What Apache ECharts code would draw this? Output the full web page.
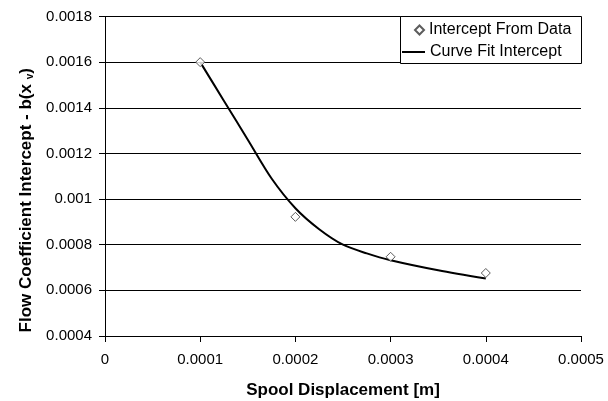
<!DOCTYPE html>
<html>
<head>
<meta charset="utf-8">
<script src="https://cdn.jsdelivr.net/npm/echarts@6/dist/echarts.min.js"></script>
<style>html,body{margin:0;padding:0;background:#fff}#c{width:608px;height:401px}</style>
</head>
<body>
<div id="c"></div>
<script>
// Data
var dataX = [0.0001, 0.0002, 0.0003, 0.0004];
var dataY = [0.0016, 0.000922, 0.000747, 0.000676];
var curveX = [0.0001, 0.000125, 0.00015, 0.000175, 0.0002, 0.000225, 0.00025, 0.000275, 0.0003, 0.00035, 0.0004];
var curveY = [0.0016, 0.00143, 0.00126, 0.00109, 0.00096, 0.000868, 0.0008, 0.000762, 0.000732, 0.000688, 0.000652];
var xTicks = [0, 0.0001, 0.0002, 0.0003, 0.0004, 0.0005];
var yTicks = [0.0004, 0.0006, 0.0008, 0.001, 0.0012, 0.0014, 0.0016, 0.0018];
var seriesNames = ['Intercept From Data', 'Curve Fit Intercept'];
var xTitle = 'Spool Displacement [m]';
var yTitle = 'Flow Coefficient Intercept - b(x ';

var FONT = "'Liberation Sans', Arial, sans-serif";
function fmt(v) { return String(+v.toFixed(5)); }

var chart = echarts.init(document.getElementById('c'), null, {renderer: 'canvas'});
chart.setOption({
  animation: false,
  backgroundColor: '#fff',
  textStyle: {fontFamily: FONT, color: '#000'},
  grid: {left: 105, right: 27, top: 16.5, bottom: 65, containLabel: false, outerBoundsMode: 'none'},
  xAxis: {
    type: 'value',
    min: xTicks[0], max: xTicks[xTicks.length - 1], interval: xTicks[1] - xTicks[0],
    name: xTitle, nameLocation: 'middle', nameGap: 46,
    nameTextStyle: {fontFamily: FONT, fontWeight: 'bold', fontSize: 17, color: '#000'},
    axisLine: {show: true, onZero: false, lineStyle: {color: '#000', width: 1}},
    axisTick: {show: true, inside: false, length: 6, lineStyle: {color: '#000'}},
    axisLabel: {fontFamily: FONT, fontSize: 15, color: '#000', margin: 16, formatter: fmt},
    splitLine: {show: false}
  },
  yAxis: {
    type: 'value',
    min: yTicks[0], max: yTicks[yTicks.length - 1], interval: 0.0002,
    name: '{a|' + yTitle + '}{s|v}{a|)}', nameLocation: 'middle', nameGap: 69, nameRotate: 90,
    nameTextStyle: {
      fontFamily: FONT, fontWeight: 'bold', fontSize: 17, color: '#000',
      padding: [0, 48, 0, 0],
      rich: {
        a: {fontFamily: FONT, fontWeight: 'bold', fontSize: 17, color: '#000'},
        s: {fontFamily: FONT, fontWeight: 'bold', fontSize: 10, color: '#000', verticalAlign: 'bottom'}
      }
    },
    axisLine: {show: true, lineStyle: {color: '#000', width: 1}},
    axisTick: {show: true, inside: false, length: 6, lineStyle: {color: '#000'}},
    axisLabel: {fontFamily: FONT, fontSize: 15, color: '#000', margin: 13, formatter: fmt},
    splitLine: {show: true, lineStyle: {color: '#000', width: 1}}
  },
  graphic: [{
    type: 'rect', z: 3,
    shape: {x: 400.5, y: 16.5, width: 181, height: 47},
    style: {fill: '#fff', stroke: '#000', lineWidth: 1}
  }],
  legend: [{
    data: [seriesNames[0]], orient: 'vertical', left: 414, top: 22, padding: 0,
    itemWidth: 9, itemHeight: 9, z: 5,
    textStyle: {fontFamily: FONT, fontSize: 16, color: '#000'}
  }, {
    data: [{name: seriesNames[1], icon: 'rect'}], orient: 'vertical', left: 402, top: 44, padding: 0,
    itemWidth: 23, itemHeight: 2, z: 5,
    textStyle: {fontFamily: FONT, fontSize: 16, color: '#000'}
  }],
  series: [{
    name: seriesNames[1], type: 'line', smooth: 0.3, symbol: 'none',
    lineStyle: {color: '#000', width: 2}, itemStyle: {color: '#000'},
    data: curveX.map(function (x, i) { return [x, curveY[i]]; }), z: 2
  }, {
    name: seriesNames[0], type: 'scatter', symbol: 'diamond', symbolSize: 9,
    itemStyle: {color: '#fff', borderColor: '#333', borderWidth: 1},
    data: dataX.map(function (x, i) { return [x, dataY[i]]; }), z: 3
  }]
});
</script>
</body>
</html>
